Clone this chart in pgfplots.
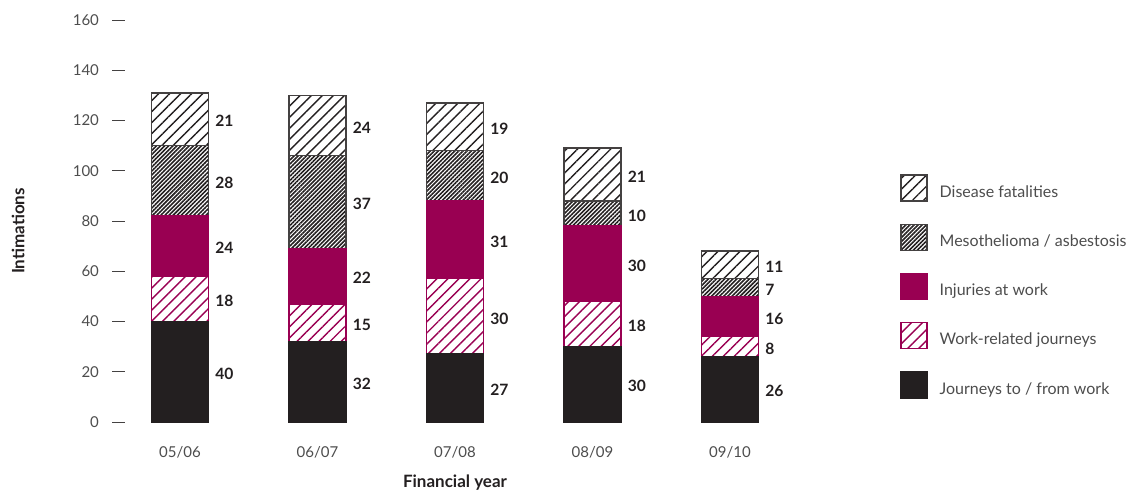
\documentclass[border=0pt]{standalone}
\usepackage{pgfplots}
\pgfplotsset{compat=1.18}
\usepackage{pgfplotstable}
\usepackage{fontspec}
\setmainfont{Lato}
\usetikzlibrary{patterns.meta}

\definecolor{mag}{HTML}{990052}
\definecolor{dk}{HTML}{231F20}
\definecolor{txt}{HTML}{4D4D4D}

% journeys to/from work, work-related journeys, injuries, mesothelioma, disease
\pgfplotstableread{
x j  w  i  m  d
0 40 18 24 28 21
1 32 15 22 37 24
2 27 30 31 20 19
3 30 18 30 10 21
4 26  8 16  7 11
}\data

\pgfplotsset{
  frame/.style={
    scale only axis, width=330pt, height=201pt,
    at={(62.5pt,36.5pt)}, anchor=south west,
    xmin=-0.4, xmax=4.4, ymin=0, ymax=160,
    /pgf/number format/assume math mode=true,
  },
  sq legend/.style={legend image code/.code={
    \draw[##1] (0pt,-4.1pt) rectangle (13pt,8.9pt);}},
  lbl/.style={draw=none, mark=none, nodes near coords,
    every node near coord/.append style={anchor=west, inner sep=0pt,
      xshift=17.5pt, yshift=-1pt, text=dk, font=\fontsize{7.8}{9}\selectfont\bfseries}},
}

\begin{document}
\begin{tikzpicture}
\useasboundingbox (0,0) rectangle (564.5pt,247.5pt);
\begin{axis}[
  frame,
  ybar stacked, bar width=28.5pt,
  axis line style={draw=none},
  ytick={0,20,...,160},
  xtick={0,1,2,3,4},
  xticklabels={05/06,06/07,07/08,08/09,09/10},
  xtick style={draw=none},
  ytick pos=left,
  ytick style={draw=dk!85, line width=0.5pt},
  tick align=outside, major tick length=6.5pt,
  tick label style={text=txt, font=\fontsize{7.5}{9}\selectfont},
  yticklabel style={xshift=-3pt},
  xticklabel style={yshift=-2pt},
  xlabel={Financial year},
  xlabel style={at={(axis description cs:0.5,0)}, anchor=center, yshift=-30.5pt,
    font=\fontsize{8.5}{10}\selectfont\bfseries, text=dk},
  ylabel={Intimations},
  ylabel style={at={(axis description cs:-0.162,0.475)}, anchor=center,
    font=\fontsize{8.5}{10}\selectfont\bfseries, text=dk},
  reverse legend,
  legend style={at={(1.174,0.617)}, anchor=north west, draw=none, fill=none,
    inner sep=0pt, row sep=10.9pt, column sep=6pt,
    nodes={inner sep=0pt},
    font=\fontsize{8}{10}\selectfont, text=txt},
  legend cell align=left,
]
  \addplot[sq legend, fill=dk, draw=dk, line width=0.7pt]
    table[x=x, y=j] {\data};
  \addlegendentry{Journeys to / from work}
  \addplot[sq legend, draw=mag, line width=0.7pt,
    pattern={Lines[angle=45, distance=3.9pt, line width=0.7pt]}, pattern color=mag]
    table[x=x, y=w] {\data};
  \addlegendentry{Work-related journeys}
  \addplot[sq legend, fill=mag, draw=mag, line width=0.7pt]
    table[x=x, y=i] {\data};
  \addlegendentry{Injuries at work}
  \addplot[sq legend, draw=dk!85, line width=0.7pt,
    pattern={Lines[angle=45, distance=1.45pt, line width=0.8pt]}, pattern color=dk]
    table[x=x, y=m] {\data};
  \addlegendentry{Mesothelioma / asbestosis}
  \addplot[sq legend, draw=dk!85, line width=0.7pt,
    pattern={Lines[angle=45, distance=3.9pt, line width=0.7pt]}, pattern color=dk]
    table[x=x, y=d] {\data};
  \addlegendentry{Disease fatalities}
\end{axis}

% value labels, one per segment, beside its middle
\begin{axis}[frame, hide axis, clip=false]
  \addplot[lbl, point meta=\thisrow{j}]
    table[x=x, y expr=\thisrow{j}/2] {\data};
  \addplot[lbl, point meta=\thisrow{w}]
    table[x=x, y expr=\thisrow{j}+\thisrow{w}/2] {\data};
  \addplot[lbl, point meta=\thisrow{i}]
    table[x=x, y expr=\thisrow{j}+\thisrow{w}+\thisrow{i}/2] {\data};
  \addplot[lbl, point meta=\thisrow{m}]
    table[x=x, y expr=\thisrow{j}+\thisrow{w}+\thisrow{i}+\thisrow{m}/2] {\data};
  \addplot[lbl, point meta=\thisrow{d}]
    table[x=x, y expr=\thisrow{j}+\thisrow{w}+\thisrow{i}+\thisrow{m}+\thisrow{d}/2] {\data};
\end{axis}
\end{tikzpicture}
\end{document}
